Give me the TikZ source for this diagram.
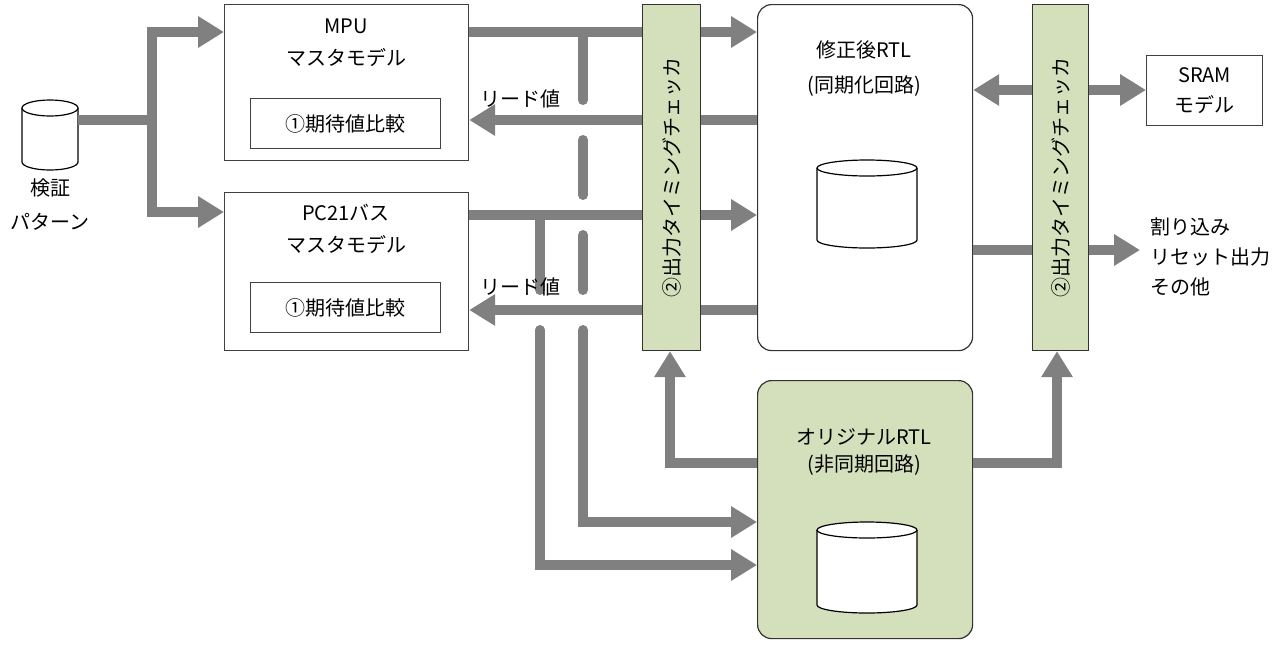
\documentclass[tikz,border=0pt]{standalone}
\usepackage{fontspec}
\setmainfont{Noto Sans CJK JP}
\usetikzlibrary{arrows.meta}
\definecolor{ln}{RGB}{128,128,128}
\definecolor{gr}{RGB}{212,224,188}
\begin{document}
\begin{tikzpicture}[x=1pt,y=-1pt,
  font=\fontsize{20}{22}\selectfont,
  box/.style={draw=black!75,line width=1.2pt,fill=white},
  rbox/.style={draw=black!80,line width=1.2pt,rounded corners=14pt},
  chk/.style={draw=black!80,line width=1.2pt,fill=gr},
  w/.style={draw=ln,line width=10pt},
  a/.style={w,-{Triangle[length=26pt,width=30pt]}},
  aa/.style={w,{Triangle[length=26pt,width=30pt]}-{Triangle[length=26pt,width=30pt]}},
  rc/.style={w,line cap=round}]
\useasboundingbox (0,0) rectangle (1284,646);
\newcommand{\cyl}[4]{% x1 x2 ytop ybot
  \pgfmathsetmacro{\cx}{(#1+#2)/2}\pgfmathsetmacro{\rx}{(#2-#1)/2}
  \fill[white] (#1,#3) -- (#1,#4) arc[start angle=180,end angle=360,x radius=\rx,y radius=-8] -- (#2,#3) -- cycle;
  \draw[line width=1.2pt] (#1,#3) -- (#1,#4) arc[start angle=180,end angle=360,x radius=\rx,y radius=-8] -- (#2,#3);
  \draw[line width=1.2pt,fill=white] (\cx,#3) ellipse[x radius=\rx,y radius=8];}
% boxes
\node[box,minimum width=244pt,minimum height=156pt,anchor=north west] (mpu) at (224,4) {};
\node[box,minimum width=244pt,minimum height=158pt,anchor=north west] (pc) at (224,192) {};
\node[box,minimum width=190pt,minimum height=50pt,anchor=north west] (e1) at (250,98) {①期待値比較};
\node[box,minimum width=190pt,minimum height=50pt,anchor=north west] (e2) at (250,282) {①期待値比較};
\node (t1) at (346,26) {MPU};
\node (t2) at (346,58) {マスタモデル};
\node (t3) at (346,213) {PC21バス};
\node (t4) at (346,245) {マスタモデル};
\node[rbox,fill=white,minimum width=215pt,minimum height=346pt,anchor=north west] (rtl) at (757,4) {};
\node[rbox,fill=gr,minimum width=215pt,minimum height=258pt,anchor=north west] (org) at (757,380) {};
\node (t5) at (864,50) {修正後RTL};
\node (t6) at (864,86) {(同期化回路)};
\node (t7) at (864,437) {オリジナルRTL};
\node (t8) at (864,465) {(非同期回路)};
\node[chk,minimum width=58pt,minimum height=346pt,anchor=north west] (c1) at (642,4) {};
\node[chk,minimum width=56pt,minimum height=346pt,anchor=north west] (c2) at (1032,4) {};
\node[box,minimum width=116pt,minimum height=70pt,anchor=north west,align=center,font=\fontsize{20}{30}\selectfont] (sram) at (1146,55) {SRAM\\モデル};
\node[anchor=north west,align=left,font=\fontsize{20}{30}\selectfont,inner sep=0] (irq) at (1150,218) {割り込み\\リセット出力\\その他};
\node[align=center,font=\fontsize{20}{34}\selectfont] (pat) at (50,205) {検証\\パターン};
\cyl{817}{917}{168}{240}
\cyl{817}{917}{530}{605}
\cyl{22}{78}{108}{162}
% verticals with gaps
\coordinate (j1) at (583,32);
\coordinate (j2) at (540,215);
\draw[rc] (j1) -- (583,100);
\draw[rc] (583,140) -- (583,195);
\draw[rc] (583,235) -- (583,290);
\draw[rc] (583,330) -- (583,522) -- (600,522);
\draw[rc] (j2) -- (540,290);
\draw[rc] (540,330) -- (540,565) -- (560,565);
\draw[a] (583,522) -- (org.west |- 0,522);
\draw[a] (540,565) -- (org.west |- 0,565);
% horizontals
\draw[a] (mpu.east |- 0,32) -- (rtl.west |- 0,32);
\draw[a] (pc.east |- 0,215) -- (rtl.west |- 0,215);
\draw[a] (rtl.west |- 0,120) -- (mpu.east |- 0,120);
\draw[a] (rtl.west |- 0,310) -- (pc.east |- 0,310);
\node[anchor=south west,inner sep=2pt] (r1) at (478,110) {リード値};
\node[anchor=south west,inner sep=2pt] (r2) at (478,298) {リード値};
% pattern
\draw[w] (78,120) -- (152,120);
\draw[a] (152,120) |- (mpu.west |- 0,32);
\draw[a] (152,120) |- (pc.west |- 0,212);
% original to checkers
\draw[a] (org.west |- 0,463) -| (c1.south -| 670,0);
\draw[a] (org.east |- 0,463) -| (c2.south -| 1057,0);
% right side
\draw[aa] (rtl.east |- 0,90) -- (sram.west |- 0,90);
\draw[a] (rtl.east |- 0,250) -- (1140,250);
\node[chk,minimum width=56pt,minimum height=346pt,anchor=north west] at (1032,4) {};
\node[rotate=90] at (c2.center) {②出力タイミングチェッカ};
\node[chk,minimum width=58pt,minimum height=346pt,anchor=north west] at (642,4) {};
\node[rotate=90] at (c1.center) {②出力タイミングチェッカ};
\end{tikzpicture}
\end{document}
